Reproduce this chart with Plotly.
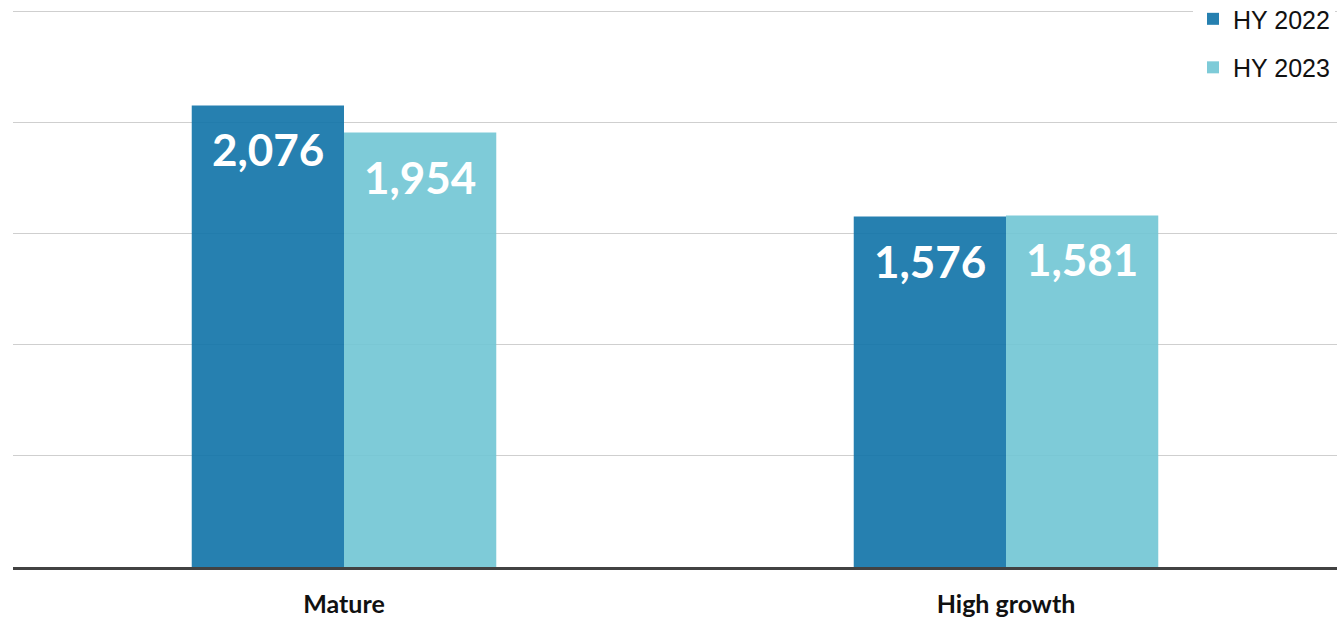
import plotly.graph_objects as go

categories = ["Mature", "High growth"]
series_names = ["HY 2022", "HY 2023"]
hy2022 = [2076, 1576]
hy2023 = [1954, 1581]
colors = ["rgba(14,114,167,0.9)", "rgba(112,197,212,0.9)"]

bargap = 0.54
fig = go.Figure()
for name, vals, col in zip(series_names, [hy2022, hy2023], colors):
    fig.add_trace(go.Bar(
        x=categories, y=vals, name=name, marker=dict(color=col, line=dict(width=0)),
        legendgroup=name,
    ))

# value labels placed inside bar tops via data coordinates
ntr = 2
bw = (1 - bargap) / ntr
for ti, vals in enumerate([hy2022, hy2023]):
    for ci, v in enumerate(vals):
        xpos = ci - (1 - bargap) / 2 + bw * (ti + 0.5)
        fig.add_annotation(
            x=xpos, y=v, xref="x", yref="y", text=f"{v:,}", showarrow=False,
            yanchor="middle", yshift=-44,
            font=dict(family="Lato", size=44, color="white", weight="bold"),
        )

fig.update_layout(
    width=1337, height=622,
    margin=dict(l=13, r=0, t=10, b=55, autoexpand=False),
    paper_bgcolor="white", plot_bgcolor="white",
    barmode="group", bargap=bargap, bargroupgap=0,
    showlegend=True,
    legend=dict(
        x=(1193 - 13) / 1324, xanchor="left", y=1.025, yanchor="top",
        bgcolor="white", traceorder="grouped", tracegroupgap=13,
        font=dict(family="Liberation Sans", size=25, color="#111"),
        borderwidth=0,
    ),
    xaxis=dict(
        type="category", range=[-0.5, 1.5],
        showline=True, linecolor="#424242", linewidth=3,
        tickfont=dict(family="Lato", size=25, color="#111", weight="bold"),
        ticks="", ticklabelstandoff=13,
    ),
    yaxis=dict(
        range=[0, 2505], dtick=500, showticklabels=False,
        showgrid=True, gridcolor="#cfcfcf", gridwidth=1, zeroline=False,
    ),
)

fig.write_html("out.html")
